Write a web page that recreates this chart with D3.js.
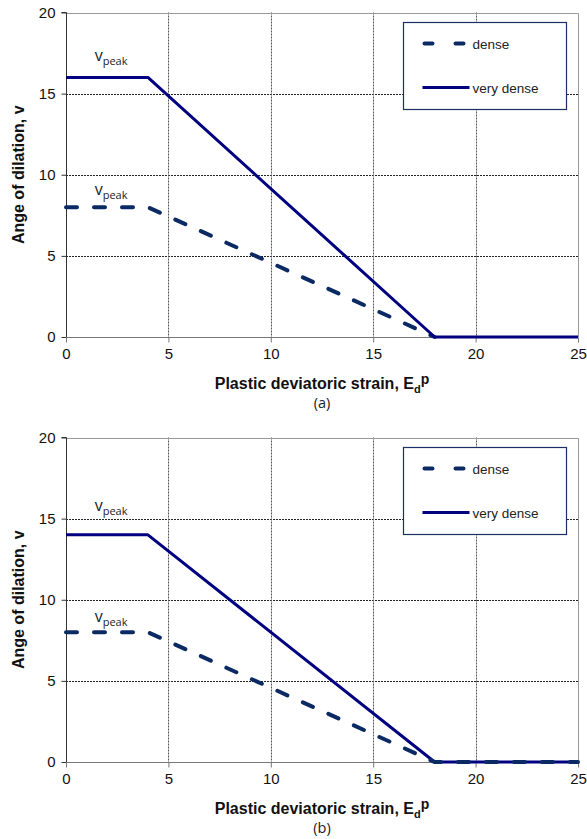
<!DOCTYPE html>
<html>
<head>
<meta charset="utf-8">
<script src="https://cdn.jsdelivr.net/npm/d3@7"></script>
<style>
  html, body { margin: 0; padding: 0; background: #fff; }
  svg { display: block; }
</style>
</head>
<body>
<svg id="chart" width="587" height="839"></svg>
<script>
// Dilation angle vs plastic deviatoric strain, two cases (a) and (b)
const xTicks = [0, 5, 10, 15, 20, 25];
const yTicks = [0, 5, 10, 15, 20];
const seriesNames = ["dense", "very dense"];

// Panel (a)
const denseA = [[0, 8], [4, 8], [18, 0]];
const veryDenseA = [[0, 16], [4, 16], [18, 0], [25, 0]];
const peakLabelsA = [[1.4, 17.0], [1.4, 8.75]];

// Panel (b)
const denseB = [[0, 8], [4, 8], [18, 0], [25, 0]];
const veryDenseB = [[0, 14], [4, 14], [18, 0], [25, 0]];
const peakLabelsB = [[1.4, 15.5], [1.4, 8.6]];

const panelLabels = ["(a)", "(b)"];

const svg = d3.select("#chart");
const font = "'Liberation Sans', Arial, sans-serif";
const colDense = "#0b2a63";
const colVery = "#000080";

function drawPanel(top, dense, very, peaks, tag, denseOnTop) {
  const left = 66, right = 578, plotH = 324.5;
  const x = d3.scaleLinear().domain([0, 25]).range([left, right]);
  const y = d3.scaleLinear().domain([0, 20]).range([top + plotH, top]);
  const g = svg.append("g");

  // grid lines
  g.append("g").selectAll("line.h").data(yTicks.filter(d => d > 0 && d < 20)).join("line")
    .attr("x1", left).attr("x2", right)
    .attr("y1", d => Math.round(y(d)) + 0.5).attr("y2", d => Math.round(y(d)) + 0.5)
    .attr("stroke", "#222").attr("stroke-width", 1).attr("stroke-dasharray", "2,1");
  g.append("g").selectAll("line.v").data(xTicks.filter(d => d > 0 && d < 25)).join("line")
    .attr("y1", top).attr("y2", top + plotH)
    .attr("x1", d => Math.round(x(d)) + 0.5).attr("x2", d => Math.round(x(d)) + 0.5)
    .attr("stroke", "#555").attr("stroke-width", 1).attr("stroke-dasharray", "2,1");

  // plot border (top and right)
  g.append("path")
    .attr("d", `M${left},${Math.round(top) + 0.5}H${right + 0.5}V${top + plotH}`)
    .attr("fill", "none").attr("stroke", "#999").attr("stroke-width", 1);

  // axes
  const yAxis = d3.axisLeft(y).tickValues(yTicks).tickSize(5).tickPadding(6);
  const xAxis = d3.axisBottom(x).tickValues(xTicks).tickSize(5).tickPadding(6);
  const ya = g.append("g").attr("transform", `translate(${left + 0.5},0)`).call(yAxis);
  const xa = g.append("g").attr("transform", `translate(0,${Math.round(top + plotH) + 0.5})`).call(xAxis);
  ya.select(".domain").attr("stroke", "#333").attr("d", `M-5,${y(20)}H0V${y(0)}`);
  xa.select(".domain").attr("stroke", "#777").attr("d", `M${left},0H${right}`);
  ya.selectAll(".tick line").attr("stroke", "#333");
  xa.selectAll(".tick line").attr("stroke", "#777");
  [ya, xa].forEach(a => a.selectAll(".tick text")
    .attr("font-family", font).attr("font-size", 15).attr("fill", "#111"));

  // series
  const line = d3.line().x(d => x(d[0])).y(d => y(d[1]));
  const drawDense = () => g.append("path").datum(dense).attr("d", line)
    .attr("fill", "none").attr("stroke", colDense).attr("stroke-width", 4)
    .attr("stroke-linecap", "round").attr("stroke-dasharray", "11,17");
  const drawVery = () => g.append("path").datum(very).attr("d", line)
    .attr("fill", "none").attr("stroke", colVery).attr("stroke-width", 3)
    .attr("stroke-linejoin", "round");
  if (denseOnTop) { drawVery(); drawDense(); } else { drawDense(); drawVery(); }

  // peak labels
  peaks.forEach(p => {
    const t = g.append("text").attr("x", x(p[0])).attr("y", y(p[1]))
      .attr("font-family", "'Open Sans', sans-serif").attr("fill", "#222");
    t.append("tspan").attr("font-size", 16).text("v");
    t.append("tspan").attr("font-size", 11).attr("dy", 4).text("peak");
  });

  // legend
  const lg = g.append("g").attr("transform", `translate(403.5,${top + 10})`);
  lg.append("rect").attr("width", 163).attr("height", 87)
    .attr("fill", "#fff").attr("stroke", "#1a2f66").attr("stroke-width", 1.2);
  [[0, 21, true], [1, 65, false]].forEach(([i, yy, dashed]) => {
    lg.append("line").attr("x1", dashed ? 21 : 19).attr("x2", dashed ? 65 : 66)
      .attr("y1", yy).attr("y2", yy)
      .attr("stroke", dashed ? colDense : colVery)
      .attr("stroke-width", dashed ? 4 : 3)
      .attr("stroke-linecap", dashed ? "round" : "butt")
      .attr("stroke-dasharray", dashed ? "8,23" : null);
    lg.append("text").attr("x", 69).attr("y", yy + 5)
      .attr("font-family", font).attr("font-size", 13.5).attr("fill", "#222")
      .text(seriesNames[i]);
  });

  // axis titles
  const yt = g.append("text")
    .attr("transform", `translate(24,${top + plotH / 2}) rotate(-90)`)
    .attr("text-anchor", "middle").attr("font-family", font)
    .attr("font-size", 16).attr("font-weight", "bold").attr("fill", "#111");
  yt.text("Ange of dilation, v");

  const xt = g.append("text").attr("x", (left + right) / 2).attr("y", top + plotH + 52)
    .attr("text-anchor", "middle").attr("font-family", font)
    .attr("font-size", 16).attr("font-weight", "bold").attr("fill", "#111");
  xt.append("tspan").text("Plastic deviatoric strain, E");
  xt.append("tspan").attr("font-size", 11).attr("dy", 4).text("d");
  xt.append("tspan").attr("font-size", 14).attr("dy", -9).text("p");

  g.append("text").attr("x", (left + right) / 2).attr("y", top + plotH + 71)
    .attr("text-anchor", "middle").attr("font-family", "'Open Sans', sans-serif")
    .attr("font-size", 14.5).attr("fill", "#222").text(tag);
}

drawPanel(12.5, denseA, veryDenseA, peakLabelsA, panelLabels[0], false);
drawPanel(437.5, denseB, veryDenseB, peakLabelsB, panelLabels[1], true);
</script>
</body>
</html>
